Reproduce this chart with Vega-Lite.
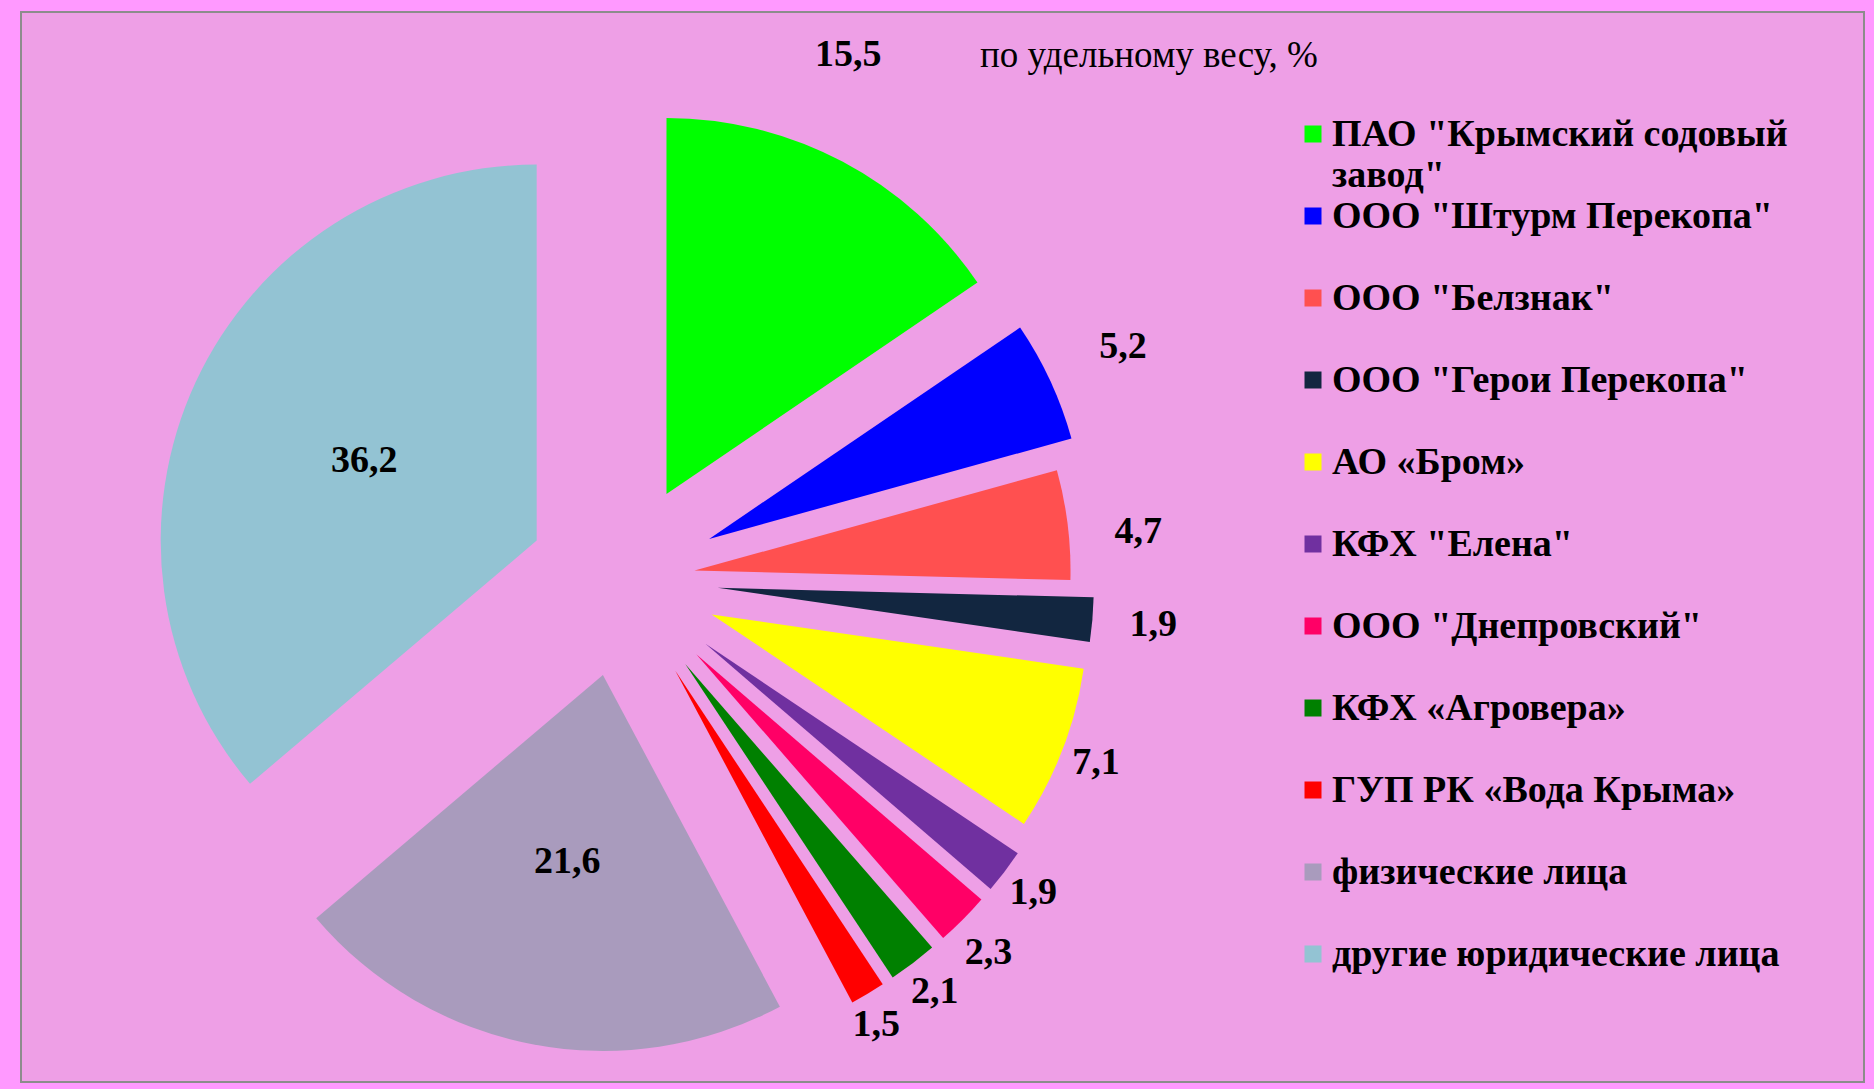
{
  "$schema": "https://vega.github.io/schema/vega-lite/v6.json",
  "width": 1843,
  "height": 1070,
  "autosize": {"type": "none"},
  "padding": {"left": 21, "top": 12, "right": 10, "bottom": 7},
  "background": "#FF99FF",
  "view": {"fill": "#EE9FE6", "stroke": "#8C8C8C", "strokeWidth": 2},
  "config": {
    "view": {"fill": "#EE9FE6", "stroke": "#8C8C8C", "strokeWidth": 2},
    "font": "Liberation Serif",
    "locale": {"number": {"decimal": ",", "thousands": " ", "grouping": [3], "currency": ["", ""]}}
  },
  "title": {
    "text": "по удельному весу, %",
    "anchor": "start",
    "frame": "group",
    "orient": "top",
    "offset": -92,
    "dx": 959,
    "baseline": "alphabetic",
    "fontSize": 37,
    "fontWeight": "normal",
    "font": "Liberation Serif",
    "color": "#000000"
  },
  "data": {
    "values": [
      {"n": 1, "name": "ПАО \"Крымский содовый завод\"", "v": 15.5},
      {"n": 2, "name": "ООО \"Штурм Перекопа\"", "v": 5.2},
      {"n": 3, "name": "ООО \"Белзнак\"", "v": 4.7},
      {"n": 4, "name": "ООО \"Герои Перекопа\"", "v": 1.9},
      {"n": 5, "name": "АО «Бром»", "v": 7.1},
      {"n": 6, "name": "КФХ \"Елена\"", "v": 1.9},
      {"n": 7, "name": "ООО \"Днепровский\"", "v": 2.3},
      {"n": 8, "name": "КФХ «Агровера»", "v": 2.1},
      {"n": 9, "name": "ГУП РК «Вода Крыма»", "v": 1.5},
      {"n": 10, "name": "физические лица", "v": 21.6},
      {"n": 11, "name": "другие юридические лица", "v": 36.2}
    ]
  },
  "encoding": {
    "theta": {"field": "v", "type": "quantitative", "stack": true},
    "order": {"field": "n", "type": "quantitative", "sort": "ascending"}
  },
  "layer": [
    {
      "mark": {
        "type": "arc",
        "radius": 376,
        "x": {"expr": "width*0.3256"},
        "y": {"expr": "height*0.5305"},
        "xOffset": {"expr": "(datum.n==3 ? 74 : (datum.n>=6 && datum.n<=9) ? 106 : datum.n==11 ? 93 : 97)*sin(PI*(datum.v_start+datum.v_end)/100)"},
        "yOffset": {"expr": "-(datum.n==3 ? 74 : (datum.n>=6 && datum.n<=9) ? 106 : datum.n==11 ? 93 : 97)*cos(PI*(datum.v_start+datum.v_end)/100)"}
      },
      "encoding": {
        "color": {
          "field": "name",
          "type": "nominal",
          "scale": {
            "domain": ["ПАО \"Крымский содовый завод\"", "ООО \"Штурм Перекопа\"", "ООО \"Белзнак\"", "ООО \"Герои Перекопа\"", "АО «Бром»", "КФХ \"Елена\"", "ООО \"Днепровский\"", "КФХ «Агровера»", "ГУП РК «Вода Крыма»", "физические лица", "другие юридические лица"],
            "range": ["#00FF00", "#0000FF", "#FF5050", "#122640", "#FFFF00", "#7030A0", "#FF0066", "#008000", "#FF0000", "#A99BBD", "#93C3D3"]
          },
          "legend": {
            "orient": "none",
            "legendX": 1273,
            "legendY": 103,
            "title": null,
            "padding": 0,
            "symbolType": "square",
            "symbolSize": 289,
            "symbolStrokeWidth": 0,
            "labelFont": "Liberation Serif",
            "labelFontSize": 38,
            "labelFontWeight": "bold",
            "labelColor": "#000000",
            "labelLimit": 700,
            "labelOffset": 0,
            "labelBaseline": "alphabetic",
            "gridAlign": "all",
            "rowPadding": 2,
            "labelExpr": "indexof(datum.label, 'содовый') >= 0 ? ['ПАО \"Крымский содовый', 'завод\"'] : datum.label",
            "encode": {"labels": {"update": {"dy": {"value": 12}, "lineHeight": {"value": 41}}}}
          }
        }
      }
    },
    {
      "mark": {
        "type": "text",
        "radius": {"expr": "datum.v > 20 ? 190 : datum.n==1 ? 476 : datum.n==2 ? 456 : datum.n==3 ? 447 : datum.n==4 ? 437 : 412"},
        "x": {"expr": "width*0.3256"},
        "y": {"expr": "height*0.5305"},
        "xOffset": {"expr": "(datum.n==3 ? 74 : (datum.n>=6 && datum.n<=9) ? 106 : datum.n==11 ? 93 : 97)*sin(PI*(datum.v_start+datum.v_end)/100)"},
        "yOffset": {"expr": "-(datum.n==3 ? 74 : (datum.n>=6 && datum.n<=9) ? 106 : datum.n==11 ? 93 : 97)*cos(PI*(datum.v_start+datum.v_end)/100)"},
        "dx": {"expr": "datum.n==1 ? -41 : datum.n==9 ? -10 : 0"},
        "dy": {"expr": "datum.n==1 ? -18 : datum.n==3 ? 16 : datum.n==7 ? 8 : 0"},
        "font": "Liberation Serif",
        "fontSize": 38,
        "fontWeight": "bold",
        "color": "#000000"
      },
      "encoding": {
        "detail": {"field": "name", "type": "nominal"},
        "text": {"field": "v", "type": "quantitative", "format": ".1f"}
      }
    }
  ]
}
